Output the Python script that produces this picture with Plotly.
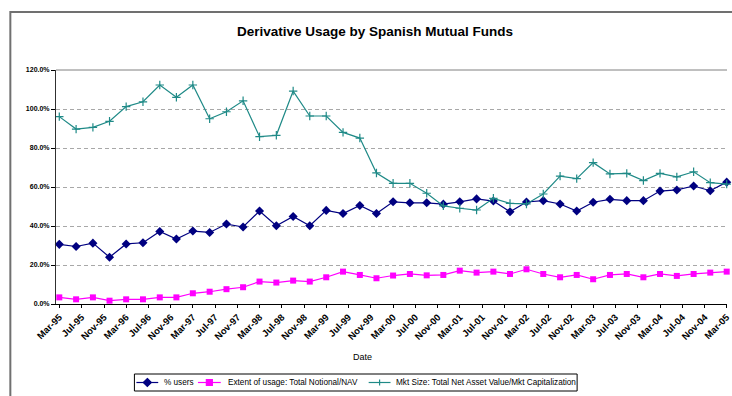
import plotly.graph_objects as go

# Quarterly observations, Mar-95 .. Mar-05
dates = [f"{1995 + (2 + 3 * i) // 12}-{(2 + 3 * i) % 12 + 1:02d}-01" for i in range(41)]

pct_users = [30.6, 29.5, 31.2, 24.0, 30.8, 31.4, 37.2, 33.3, 37.4, 36.7,
             41.0, 39.5, 47.7, 40.1, 44.9, 40.1, 48.0, 46.4, 50.5, 46.4,
             52.4, 51.9, 51.9, 51.2, 52.4, 53.9, 52.8, 47.3, 52.3, 53.0,
             51.3, 47.7, 52.2, 53.7, 53.0, 53.0, 57.9, 58.5, 60.5, 58.1,
             62.5]

extent_usage = [3.4, 2.4, 3.4, 1.7, 2.4, 2.4, 3.4, 3.4, 5.5, 6.3,
                7.6, 8.6, 11.5, 11.0, 12.0, 11.5, 13.7, 16.6, 14.9, 13.2,
                14.6, 15.4, 14.7, 14.9, 17.1, 16.1, 16.6, 15.4, 17.8, 15.4,
                13.7, 14.9, 12.7, 14.9, 15.4, 13.7, 15.4, 14.4, 15.4, 16.1,
                16.6]

mkt_size = [96.1, 89.7, 90.6, 93.7, 101.2, 103.7, 112.3, 106.0, 112.3, 95.0,
            98.6, 104.2, 85.8, 86.5, 109.2, 96.4, 96.4, 88.0, 85.1, 67.2,
            61.9, 61.9, 56.8, 50.3, 49.1, 48.2, 54.2, 51.6, 51.3, 56.4,
            65.6, 64.3, 72.5, 66.7, 67.0, 63.3, 67.0, 65.2, 67.8, 62.2,
            61.5]

series_names = ["% users",
                "Extent of usage: Total Notional/NAV",
                "Mkt Size: Total Net Asset Value/Mkt Capitalization"]
series_colors = ["#000080", "#FF00FF", "#1F8A87"]

FONT = "Arial, Liberation Sans, sans-serif"

# page geometry (px)
W, H = 732, 396
L, R, T, B = 56, 0, 70, 92
PW, PH = W - L - R, H - T - B


def px(xp):
    return (xp - L) / PW


def py(yp):
    return (H - B - yp) / PH


fig = go.Figure()
fig.add_trace(go.Scatter(
    x=dates, y=[v / 100 for v in pct_users], name=series_names[0],
    mode="lines+markers", cliponaxis=False,
    line=dict(color=series_colors[0], width=1.2),
    marker=dict(symbol="diamond", size=7, color=series_colors[0])))
fig.add_trace(go.Scatter(
    x=dates, y=[v / 100 for v in extent_usage], name=series_names[1],
    mode="lines+markers", cliponaxis=False,
    line=dict(color=series_colors[1], width=1.2),
    marker=dict(symbol="square", size=6, color=series_colors[1])))
fig.add_trace(go.Scatter(
    x=dates, y=[v / 100 for v in mkt_size], name=series_names[2],
    mode="lines+markers", cliponaxis=False,
    line=dict(color=series_colors[2], width=1.2),
    marker=dict(symbol="cross-thin", size=6, color=series_colors[2],
                line=dict(color=series_colors[2], width=1.2))))

# legend key: line + marker glyph + label, inside a framed box
legend_y = 382.5
key_spans = [(137, 159), (199, 222), (371, 393)]
label_x = [163, 227, 397]
glyph_paths = [
    "M 0 4 L 4 0 L 0 -4 L -4 0 Z",          # diamond
    "M -3 -3 L 3 -3 L 3 3 L -3 3 Z",        # square
    "M -3 0 L 3 0 M 0 -3 L 0 3",            # plus
]
shapes = [
    # chart-area frame
    dict(type="rect", xref="paper", yref="paper",
         x0=px(10), x1=1.1, y0=-0.6, y1=py(12),
         line=dict(color="#707070", width=2), layer="below"),
    # plot-area top edge
    dict(type="line", xref="paper", yref="paper", x0=0, x1=1, y0=1, y1=1,
         line=dict(color="#808080", width=1)),
    # legend frame
    dict(type="rect", xref="paper", yref="paper",
         x0=px(135), x1=px(581), y0=py(391), y1=py(374),
         line=dict(color="black", width=1), fillcolor="white"),
]
annotations = [
    dict(text="<b>Derivative Usage by Spanish Mutual Funds</b>",
         xref="paper", yref="paper", x=px(377.5), y=py(32),
         xanchor="center", yanchor="middle", showarrow=False,
         font=dict(size=13.5, family=FONT)),
    dict(text="Date", xref="paper", yref="paper",
         x=px(365), y=py(357),
         xanchor="center", yanchor="middle", showarrow=False,
         font=dict(size=9, family=FONT)),
]
for (x0, x1), lx, name, col, path in zip(key_spans, label_x, series_names,
                                          series_colors, glyph_paths):
    shapes.append(dict(type="line", xref="paper", yref="paper",
                       x0=px(x0), x1=px(x1), y0=py(legend_y), y1=py(legend_y),
                       line=dict(color=col, width=1.2)))
    is_plus = path.count("M") > 1
    shapes.append(dict(type="path", xref="paper", yref="paper",
                       xsizemode="pixel", ysizemode="pixel",
                       xanchor=px((x0 + x1) / 2), yanchor=py(legend_y),
                       path=path,
                       line=dict(color=col, width=1.2),
                       fillcolor=None if is_plus else col))
    annotations.append(dict(text=name, xref="paper", yref="paper",
                            x=px(lx), y=py(legend_y),
                            xanchor="left", yanchor="middle", showarrow=False,
                            font=dict(size=8.2, family=FONT)))

fig.update_layout(
    width=W, height=H, autosize=False,
    margin=dict(l=L, r=R, t=T, b=B),
    paper_bgcolor="white", plot_bgcolor="white",
    font=dict(family=FONT, color="black"),
    showlegend=False,
    xaxis=dict(
        type="date", range=["1995-02-11", "2005-03-02 15:00"],
        tick0="1995-03-01", dtick="M4", tickformat="%b-%y", tickangle=-45,
        tickfont=dict(size=9.5, family=FONT, weight="bold"),
        ticklabeloverflow="allow",
        showgrid=False, showline=True, linecolor="black", linewidth=1,
        mirror=False, ticks="outside", ticklen=3, tickcolor="black", zeroline=False),
    yaxis=dict(
        range=[0, 1.2], dtick=0.2, tickformat=".1%",
        tickfont=dict(size=7, family=FONT, weight="bold"),
        showgrid=True, gridcolor="#a8a8a8", griddash="4px,3px", gridwidth=1,
        showline=True, linecolor="#303030", linewidth=1,
        ticks="outside", ticklen=4, tickcolor="black", zeroline=False),
    annotations=annotations,
    shapes=shapes,
)

fig.write_html("out.html")
